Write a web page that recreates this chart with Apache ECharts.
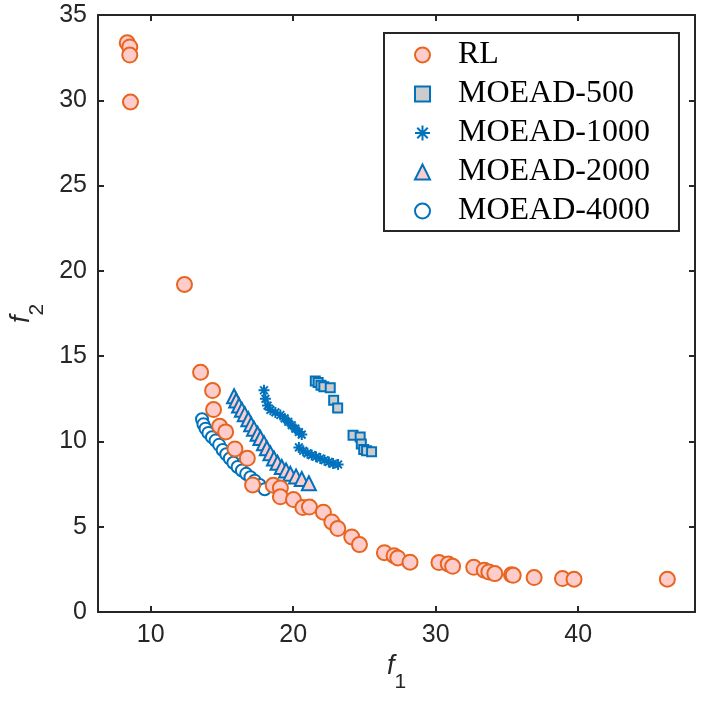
<!DOCTYPE html>
<html>
<head>
<meta charset="utf-8">
<script src="https://cdn.jsdelivr.net/npm/echarts@6/dist/echarts.min.js"></script>
<style>
html,body{margin:0;padding:0;background:#fff;}
#main{width:705px;height:705px;}
</style>
</head>
<body>
<div id="main"></div>
<script>
// series values
var rlF1 = [8.35,8.53,8.53,8.58,12.37,13.5,14.34,14.41,14.84,15.26,15.91,16.78,17.15,18.6,19.1,19.1,20.02,20.68,21.14,22.12,22.71,23.13,24.11,24.65,26.4,27.08,27.34,28.2,30.23,30.88,31.19,32.67,33.41,33.73,34.15,35.32,35.44,36.91,38.9,39.71,46.26];
var rlF2 = [33.37,33.13,32.65,29.9,19.2,14.05,12.98,11.87,10.89,10.56,9.56,9.01,7.45,7.43,7.27,6.75,6.59,6.12,6.15,5.85,5.28,4.89,4.4,3.95,3.48,3.3,3.17,2.92,2.9,2.82,2.68,2.62,2.45,2.35,2.25,2.19,2.15,2.02,1.96,1.92,1.92];

var m500F1 = [21.55,21.75,21.95,22.15,22.6,22.84,23.12,24.2,24.7,24.78,24.95,25.15,25.5];
var m500F2 = [13.55,13.45,13.3,13.2,13.15,12.42,11.96,10.36,10.26,9.85,9.52,9.45,9.4];

var m1000F1 = [17.95,18.05,18.2,18.4,18.75,19.1,19.4,19.65,19.9,20.15,20.4,20.6,20.4,20.7,21.0,21.3,21.6,21.9,22.2,22.5,22.8,23.15];
var m1000F2 = [13.0,12.5,12.1,11.85,11.7,11.55,11.35,11.15,10.95,10.75,10.55,10.4,9.65,9.45,9.3,9.2,9.1,9.0,8.9,8.8,8.7,8.65];

var m2000F1 = [15.85,16.0,16.2,16.4,16.6,16.85,17.05,17.25,17.5,17.7,17.95,18.15,18.4,18.65,18.9,19.2,19.5,19.8,20.2,20.6,21.1];
var m2000F2 = [12.65,12.4,12.1,11.85,11.6,11.3,11.0,10.75,10.45,10.2,9.9,9.6,9.3,9.0,8.75,8.5,8.3,8.1,7.95,7.8,7.55];

var m4000F1 = [13.6,13.7,13.85,14.05,14.3,14.55,14.8,15.05,15.3,15.55,15.8,16.1,16.4,16.7,17.0,17.3,17.65,18.0];
var m4000F2 = [11.3,11.0,10.75,10.5,10.25,10.05,9.8,9.5,9.25,9.0,8.75,8.5,8.3,8.1,7.9,7.7,7.45,7.2];

var seriesNames = ['RL','MOEAD-500','MOEAD-1000','MOEAD-2000','MOEAD-4000'];
var xTicks = [10,20,30,40];
var yTicks = [0,5,10,15,20,25,30,35];

function pairs(a, b){
	var out = [];
	for(var i=0;i<a.length;i++){ out.push([a[i], b[i]]); }
	return out;
}

var blue = '#0072BD';
var orange = '#E8651F';
var pink = '#FFCCCC';
var axisCol = '#262626';
var asterisk = 'path://M5 0L5 10M0 5L10 5M1.5 1.5L8.5 8.5M1.5 8.5L8.5 1.5';

var tickFont = {color:axisCol, fontSize:25, fontFamily:'Liberation Sans'};
var nameRich = {
	i:{fontStyle:'italic', fontSize:27, fontFamily:'Liberation Sans', color:axisCol, lineHeight:40, verticalAlign:'top'},
	s:{fontSize:21, fontFamily:'Liberation Sans', color:axisCol, lineHeight:40, verticalAlign:'bottom'}
};

function axisBase(pos, min, max, ticks, main){
	return {
		type:'value', position:pos, min:min, max:max,
		axisLine:{show:true, onZero:false, lineStyle:{color:axisCol, width:2}},
		axisTick:{show:true, inside:true, length:6, customValues:ticks, lineStyle:{color:axisCol, width:2}},
		axisLabel:main ? Object.assign({show:true, margin:11, customValues:ticks}, tickFont) : {show:false},
		splitLine:{show:false}
	};
}

var xMain = axisBase('bottom', 6.3, 48.2, xTicks, true);
xMain.name = '{i|f}{s|1}';
xMain.nameLocation = 'middle';
xMain.nameGap = 40;
xMain.nameTextStyle = {rich:nameRich};
var yMain = axisBase('left', 0, 35, yTicks, true);
yMain.name = '{i|f}{s|2}';
yMain.nameLocation = 'middle';
yMain.nameGap = 50;
yMain.nameRotate = 90;
yMain.nameTextStyle = {rich:nameRich};

var myChart = echarts.init(document.getElementById('main'));
var option = {
	animation:false,
	backgroundColor:'#fff',
	grid:{left:97, right:10, top:15, bottom:93},
	xAxis:[xMain, axisBase('top', 6.3, 48.2, xTicks, false)],
	yAxis:[yMain, axisBase('right', 0, 35, yTicks, false)],
	legend:{
		data:seriesNames,
		orient:'vertical',
		left:384, top:33,
		itemWidth:15, itemHeight:15, itemGap:5,
		padding:[5,29,3,30],
		borderColor:axisCol, borderWidth:2,
		backgroundColor:'#fff',
		textStyle:{fontSize:32, lineHeight:34, fontFamily:'Liberation Serif', color:'#000', padding:[0,0,0,23]}
	},
	series:[
		{name:'MOEAD-500', type:'scatter', symbol:'rect', symbolSize:9, data:pairs(m500F1,m500F2),
			itemStyle:{color:'#CCCCCC', borderColor:blue, borderWidth:2, opacity:1}},
		{name:'MOEAD-1000', type:'scatter', symbol:asterisk, symbolSize:11, data:pairs(m1000F1,m1000F2),
			itemStyle:{color:'transparent', borderColor:blue, borderWidth:2, opacity:1}},
		{name:'MOEAD-2000', type:'scatter', symbol:'triangle', symbolSize:14, data:pairs(m2000F1,m2000F2),
			itemStyle:{color:pink, borderColor:blue, borderWidth:2, opacity:1}},
		{name:'MOEAD-4000', type:'scatter', symbol:'circle', symbolSize:12, data:pairs(m4000F1,m4000F2),
			itemStyle:{color:'#fff', borderColor:blue, borderWidth:2, opacity:1}},
		{name:'RL', type:'scatter', symbol:'circle', symbolSize:15, data:pairs(rlF1,rlF2), z:3,
			itemStyle:{color:pink, borderColor:orange, borderWidth:2, opacity:1}}
	]
};
myChart.setOption(option);
</script>
</body>
</html>
